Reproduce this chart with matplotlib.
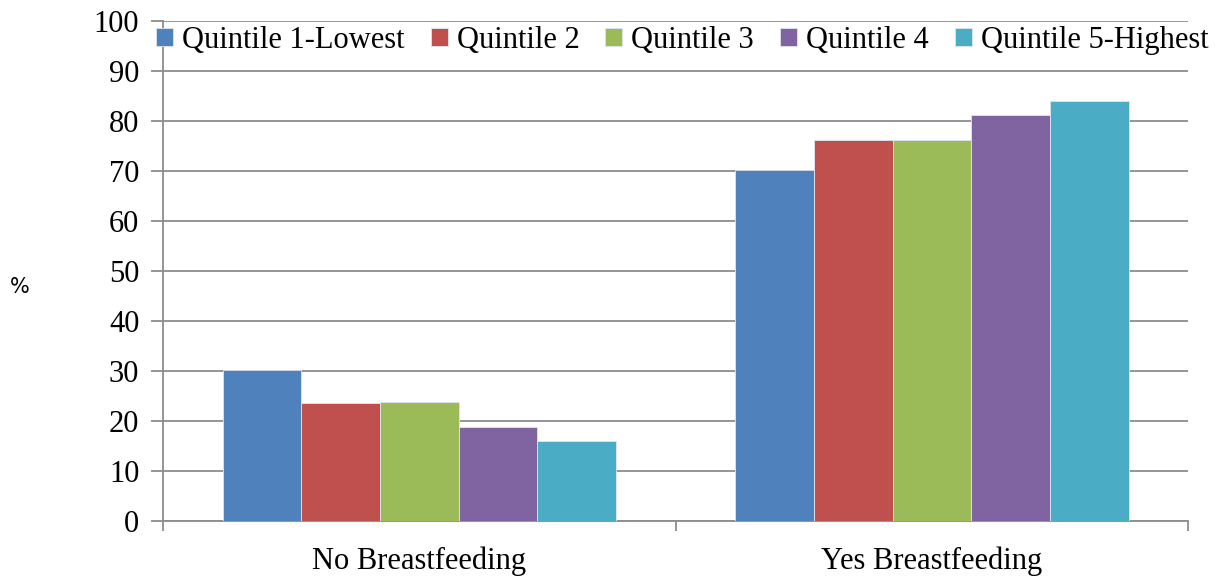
import matplotlib
matplotlib.use("Agg")
import matplotlib.pyplot as plt
import numpy as np

categories = ["No Breastfeeding", "Yes Breastfeeding"]
series_names = ["Quintile 1-Lowest", "Quintile 2", "Quintile 3", "Quintile 4", "Quintile 5-Highest"]
q1 = [30.3, 70.1]
q2 = [23.7, 76.2]
q3 = [23.9, 76.1]
q4 = [18.8, 81.2]
q5 = [16.1, 83.9]
colors = ["#4F81BD", "#C0504D", "#9BBB59", "#8064A2", "#4BACC6"]

plt.rcParams['font.family'] = ['Liberation Serif', 'DejaVu Serif']

fig = plt.figure(figsize=(12.25, 5.78), dpi=100)
ax = fig.add_axes([0.133, 0.0986, 0.837, 0.8651])

x = np.arange(len(categories))
width = 0.1535
for i, (vals, name, c) in enumerate(zip([q1, q2, q3, q4, q5], series_names, colors)):
    ax.bar(x + (i - 2) * width, vals, width, color=c, label=name,
           edgecolor="#dfe6ef", linewidth=0.6, zorder=3)

ax.set_xlim(-0.5, 1.5)
ax.set_ylim(0, 100)
ax.set_yticks(range(0, 101, 10))
ax.yaxis.grid(True, color="#8c8c8c", linewidth=1.3, zorder=0)
ax.set_axisbelow(True)

ax.set_xticks(x)
ax.set_xticklabels(categories, fontsize=22)
ax.tick_params(axis='x', length=0, pad=18)
# category separator ticks
ax.set_xticks([-0.5, 0.5, 1.5], minor=True)
ax.tick_params(axis='x', which='minor', length=7, color="#8c8c8c", width=1.3)
ax.tick_params(axis='y', labelsize=22, length=9, color="#8c8c8c", width=1.3, pad=8)

for s in ["top", "right"]:
    ax.spines[s].set_visible(False)
for s in ["left", "bottom"]:
    ax.spines[s].set_color("#8c8c8c")
    ax.spines[s].set_linewidth(1.3)

fig.text(0.008, 0.503, "%", fontsize=15, family="DejaVu Sans", va="center", ha="left")

leg = ax.legend(loc="center", bbox_to_anchor=(0.557, 0.930), bbox_transform=fig.transFigure,
                ncol=5, frameon=False, fontsize=22, handlelength=0.55, handleheight=0.55,
                handletextpad=0.3, columnspacing=0.85, borderpad=0)

fig.savefig("out.png", dpi=100)
